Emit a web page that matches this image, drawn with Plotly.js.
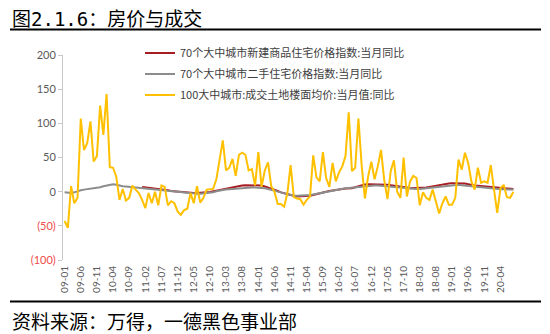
<!DOCTYPE html>
<html>
<head>
<meta charset="utf-8">
<script src="https://cdn.plot.ly/plotly-3.0.1.min.js"></script>
<style>html,body{margin:0;padding:0;background:#fff;}#chart{width:550px;height:334px;}</style>
</head>
<body>
<div id="chart"></div>
<script>
// ---- data ----
var startYear = 2009, monthCount = 140;
var categories = [];
for (var i = 0; i < monthCount; i++) {
  var y = startYear + Math.floor(i / 12), m = (i % 12) + 1;
  categories.push(String(y % 100).padStart(2, '0') + '-' + String(m).padStart(2, '0'));
}
var tickLabels = ['09-01','09-06','09-11','10-04','10-09','11-02','11-07','11-12','12-05','12-10','13-03','13-08','14-01','14-06','14-11','15-04','15-09','16-02','16-07','16-12','17-05','17-10','18-03','18-08','19-01','19-06','19-11','20-04'];

var seriesNames = ['70个大中城市新建商品住宅价格指数:当月同比','70个大中城市二手住宅价格指数:当月同比','100大中城市:成交土地楼面均价:当月值:同比'];

var newHomeYoY = [null,null,null,null,null,null,null,null,null,null,null,null,null,null,null,null,null,null,null,null,null,null,null,null,
 7,6.5,6,5.5,5,4,3.5,3,2,1,0.5,-0.5,-1,-1.5,-2,-2,-2,-2,-2,-1.5,-1,-0.5,0.5,1.5,3,4,5,6,7,7.5,8.5,9,9.5,9.5,10,10,
 9.5,9,7.5,6,5,3,1,-1,-2.5,-4,-5,-6,-7,-7,-7,-7,-6,-5,-3.5,-2,-1,0,1,2,2.5,3,4,4.5,4.5,5,6.5,8,9.5,10.5,11,11,
 10.5,10,10,10,10,9.5,9,8.5,8,7,6,5,5,5,5,5,6,7,8,9,10,11,11.5,12,12.5,12.5,12.5,12.5,12,11,9.5,9,8.5,8,7.5,7,6.5,6,6,5.5,5,5,4.5,4];

var resaleYoY = [-1,-1.5,-2,-1,1,2,3,3.5,4,4.5,5,6.5,8,9,10,11,10,8.5,8,7.5,7,6.5,6,5,5,4.5,4,4,3.5,3,2.5,2,1.5,1,0,-0.5,-1,-1.5,-2,-2.5,
 -3,-3,-3,-2.5,-2,-2,-1,0.5,2,2.5,3,3.5,4,4.5,5,5,5.5,6,6,6,6,5.5,5,4,3,2,0.5,-1,-2.5,-4,-5,-6,-6,-6,-6,-6,-5,-4,-3,-2,
 -1,0,1,2,2.5,3,4,5,5.5,6,7,7.5,8,8.5,9,9,9,9,8.5,8.5,8,8,7,6,5.5,5,4.5,4,4,4,4,4.5,5,5,6,6.5,7,8,8.5,9,
 9.5,10,10,9.5,9,8,7.5,7,6,5.5,5,5,4.5,4,4,3.5,3.5,3,3,3];

var landPriceYoY = [-43,-53,8,-17,-9,107,61,71,103,44,52,126,83,143,36,35,22,-12,4,-13,-9,9,3,-2,-12,-24,-2,-17,0,-20,9,7,-20,-14,-17,-29,-34,-27,-25,-2,-17,8,-16,-9,3,
 3,4,18,49,75,31,35,48,23,54,57,54,31,33,9,58,7,31,43,8,0,-18,-18,-22,-2,39,-8,-10,-11,-19,-12,-7,53,21,15,58,20,7,42,15,28,37,52,116,30,35,107,39,-10,22,44,18,37,
 61,17,-11,30,46,0,-9,50,-7,15,23,20,-20,-1,-9,-12,3,-14,-32,-17,-7,-19,-19,-9,47,32,57,42,15,3,35,13,15,13,39,3,-31,5,10,-8,-9,0];

var yTickVals = [-100,-50,0,50,100,150,200];
var yTickText = ['<span style="color:#f04b4b">(100)</span>','<span style="color:#f04b4b">(50)</span>','0','50','100','150','200'];

var titleText = '图<span style="font-family:\'DejaVu Sans Mono\',monospace">2.1.6</span>：房价与成交';
var sourceText = '资料来源：万得，一德黑色事业部';

// ---- layout helpers (pixel -> paper) ----
var W = 550, H = 334, mL = 63, mR = 35, mT = 55, mB = 74;
var pw = W - mL - mR, ph = H - mT - mB;
function px(x) { return (x - mL) / pw; }
function py(y) { return (H - mB - y) / ph; }

var cjk = '"Noto Sans CJK SC", "Noto Sans", sans-serif';
var num = 'Lato, "Noto Sans CJK SC", sans-serif';

var traces = [
  {x: categories, y: newHomeYoY, name: seriesNames[0], legendgroup: 'a', type: 'scatter', mode: 'lines', line: {color: '#A91D22', width: 2}},
  {x: categories, y: resaleYoY, name: seriesNames[1], legendgroup: 'b', type: 'scatter', mode: 'lines', line: {color: '#8C8C8C', width: 2}},
  {x: categories, y: landPriceYoY, name: seriesNames[2], legendgroup: 'c', type: 'scatter', mode: 'lines', line: {color: '#FFC000', width: 2}}
];

var layout = {
  width: W, height: H,
  margin: {l: mL, r: mR, t: mT, b: mB, pad: 0},
  paper_bgcolor: '#ffffff', plot_bgcolor: '#ffffff',
  showlegend: true,
  legend: {x: px(140), y: py(38.5), xanchor: 'left', yanchor: 'top', bgcolor: 'rgba(0,0,0,0)',
           traceorder: 'grouped', tracegroupgap: 2,
           font: {family: cjk, size: 11, color: '#404040'}},
  xaxis: {type: 'category', categoryorder: 'array', categoryarray: categories,
          range: [-0.5, monthCount - 0.5], tickmode: 'array', tickvals: tickLabels, ticktext: tickLabels,
          tickangle: -90, ticks: '', showline: false, showgrid: false, zeroline: false,
          tickfont: {family: num, size: 10, color: '#595959'}, ticklabelstandoff: 3},
  xaxis2: {type: 'category', categoryorder: 'array', categoryarray: categories, overlaying: 'x',
           anchor: 'free', position: py(192), range: [-0.5, monthCount - 0.5],
           tickmode: 'array', tickvals: tickLabels, showticklabels: false,
           ticks: 'outside', ticklen: 4, tickcolor: '#c8c8c8', showline: true, linecolor: '#c8c8c8', linewidth: 1,
           showgrid: false, zeroline: false},
  yaxis: {range: [-100, 200], tickmode: 'array', tickvals: yTickVals, ticktext: yTickText,
          showline: true, linecolor: '#c8c8c8', linewidth: 1, ticks: 'outside', ticklen: 4, tickcolor: '#c8c8c8',
          showgrid: false, zeroline: false, tickfont: {family: num, size: 11, color: '#595959'}},
  annotations: [
    {xref: 'paper', yref: 'paper', x: px(10), y: py(17), xanchor: 'left', yanchor: 'middle', showarrow: false,
     text: titleText, font: {family: cjk, size: 19, color: '#000000'}},
    {xref: 'paper', yref: 'paper', x: px(10), y: py(320), xanchor: 'left', yanchor: 'middle', showarrow: false,
     text: sourceText, font: {family: cjk, size: 19, color: '#000000'}}
  ],
  shapes: [
    {type: 'line', xref: 'paper', yref: 'paper', x0: px(10), x1: px(541), y0: py(29.5), y1: py(29.5), line: {color: '#000000', width: 2}},
    {type: 'line', xref: 'paper', yref: 'paper', x0: px(10), x1: px(541), y0: py(301.5), y1: py(301.5), line: {color: '#000000', width: 2}}
  ]
};

Plotly.newPlot('chart', traces, layout, {displayModeBar: false, staticPlot: true});
</script>
</body>
</html>
